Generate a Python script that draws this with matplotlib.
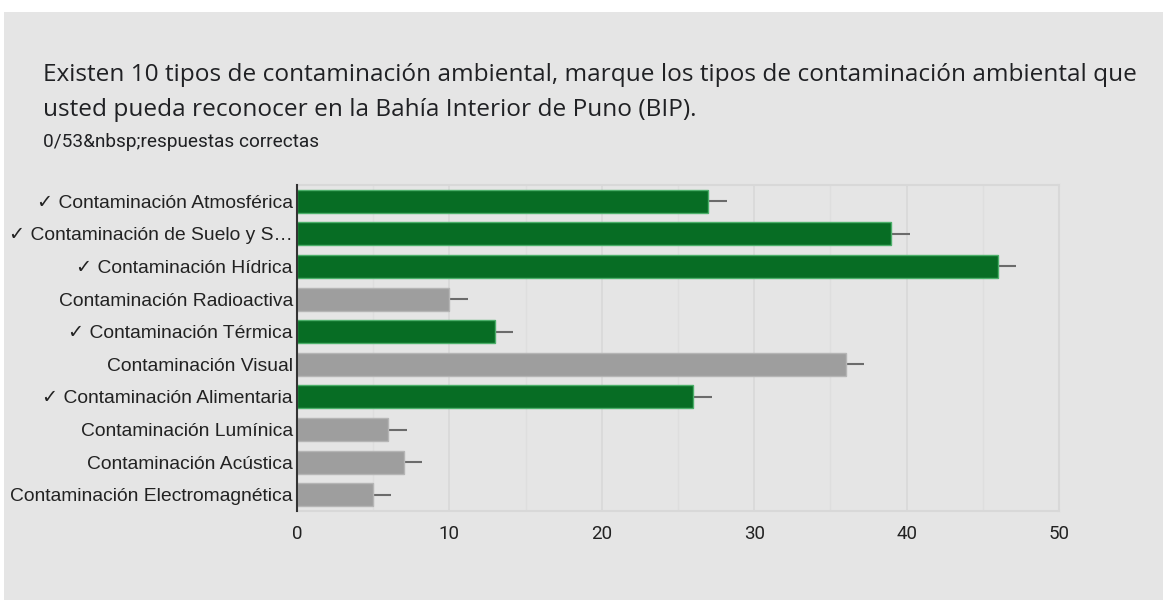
import matplotlib.pyplot as plt
from matplotlib.patches import Rectangle

title_lines = [
    "Existen 10 tipos de contaminación ambiental, marque los tipos de contaminación ambiental que",
    "usted pueda reconocer en la Bahía Interior de Puno (BIP).",
]
subtitle = "0/53&nbsp;respuestas correctas"

labels = [
    "✓ Contaminación Atmosférica",
    "✓ Contaminación de Suelo y S…",
    "✓ Contaminación Hídrica",
    "Contaminación Radioactiva",
    "✓ Contaminación Térmica",
    "Contaminación Visual",
    "✓ Contaminación Alimentaria",
    "Contaminación Lumínica",
    "Contaminación Acústica",
    "Contaminación Electromagnética",
]
values = [27, 39, 46, 10, 13, 36, 26, 6, 7, 5]
correct = [True, True, True, False, True, False, True, False, False, False]
err = [1.2] * 10

BG = "#e5e5e5"
GREEN = "#076d24"
GREEN_EDGE = "#4caf6a"
GRAY = "#9e9e9e"
GRAY_EDGE = "#b5b5b5"

fig = plt.figure(figsize=(11.63, 6), dpi=100, facecolor="white")
fig.patches.append(Rectangle((4 / 1163, 0), 1, 1 - 12 / 600, transform=fig.transFigure,
                             facecolor=BG, edgecolor="none", zorder=-10))

for i, line in enumerate(title_lines):
    fig.text(43 / 1163, 1 - (81 + 35 * i) / 600, line, fontsize=17.55, family="Open Sans",
             color="#202124", va="baseline")
fig.text(43 / 1163, 1 - 147 / 600, subtitle, fontsize=13.7, family="Roboto",
         color="#202124", va="baseline")

ax = fig.add_axes([297 / 1163, 1 - 511 / 600, 762 / 1163, 326 / 600])
ax.set_facecolor(BG)

y = list(range(len(values)))
colors = [GREEN if c else GRAY for c in correct]
edges = [GREEN_EDGE if c else GRAY_EDGE for c in correct]

ax.errorbar(values, y, xerr=err, fmt="none", ecolor="#6b6b6b", elinewidth=1.5,
            capsize=0, zorder=2)
ax.barh(y, values, height=0.7, color=colors, edgecolor=edges, linewidth=1, zorder=3)

ax.set_ylim(len(values) - 0.5, -0.5)
ax.set_xlim(0, 50)
ax.set_yticks(y)
ax.set_yticklabels(labels, fontsize=13.85, family=["Liberation Sans", "DejaVu Sans"], color="#222222")
ax.set_xticks(range(0, 51, 10))
ax.set_xticks(range(5, 50, 10), minor=True)
ax.tick_params(axis="x", which="both", length=0, pad=10, labelsize=13.5, labelcolor="#222222")
for lbl in ax.get_xticklabels():
    lbl.set_family("Roboto")
ax.tick_params(axis="y", length=0, pad=3)

ax.grid(axis="x", which="major", color="#d8d8d8", linewidth=1.2, zorder=0)
ax.grid(axis="x", which="minor", color="#dedede", linewidth=1, zorder=0)
ax.set_axisbelow(True)

for s in ["top", "right", "bottom"]:
    ax.spines[s].set_color("#d8d8d8")
    ax.spines[s].set_linewidth(1.5)
ax.spines["left"].set_color("#333333")
ax.spines["left"].set_linewidth(1.5)
ax.spines["left"].set_zorder(5)

fig.savefig("out.png", dpi=100, facecolor="white")
